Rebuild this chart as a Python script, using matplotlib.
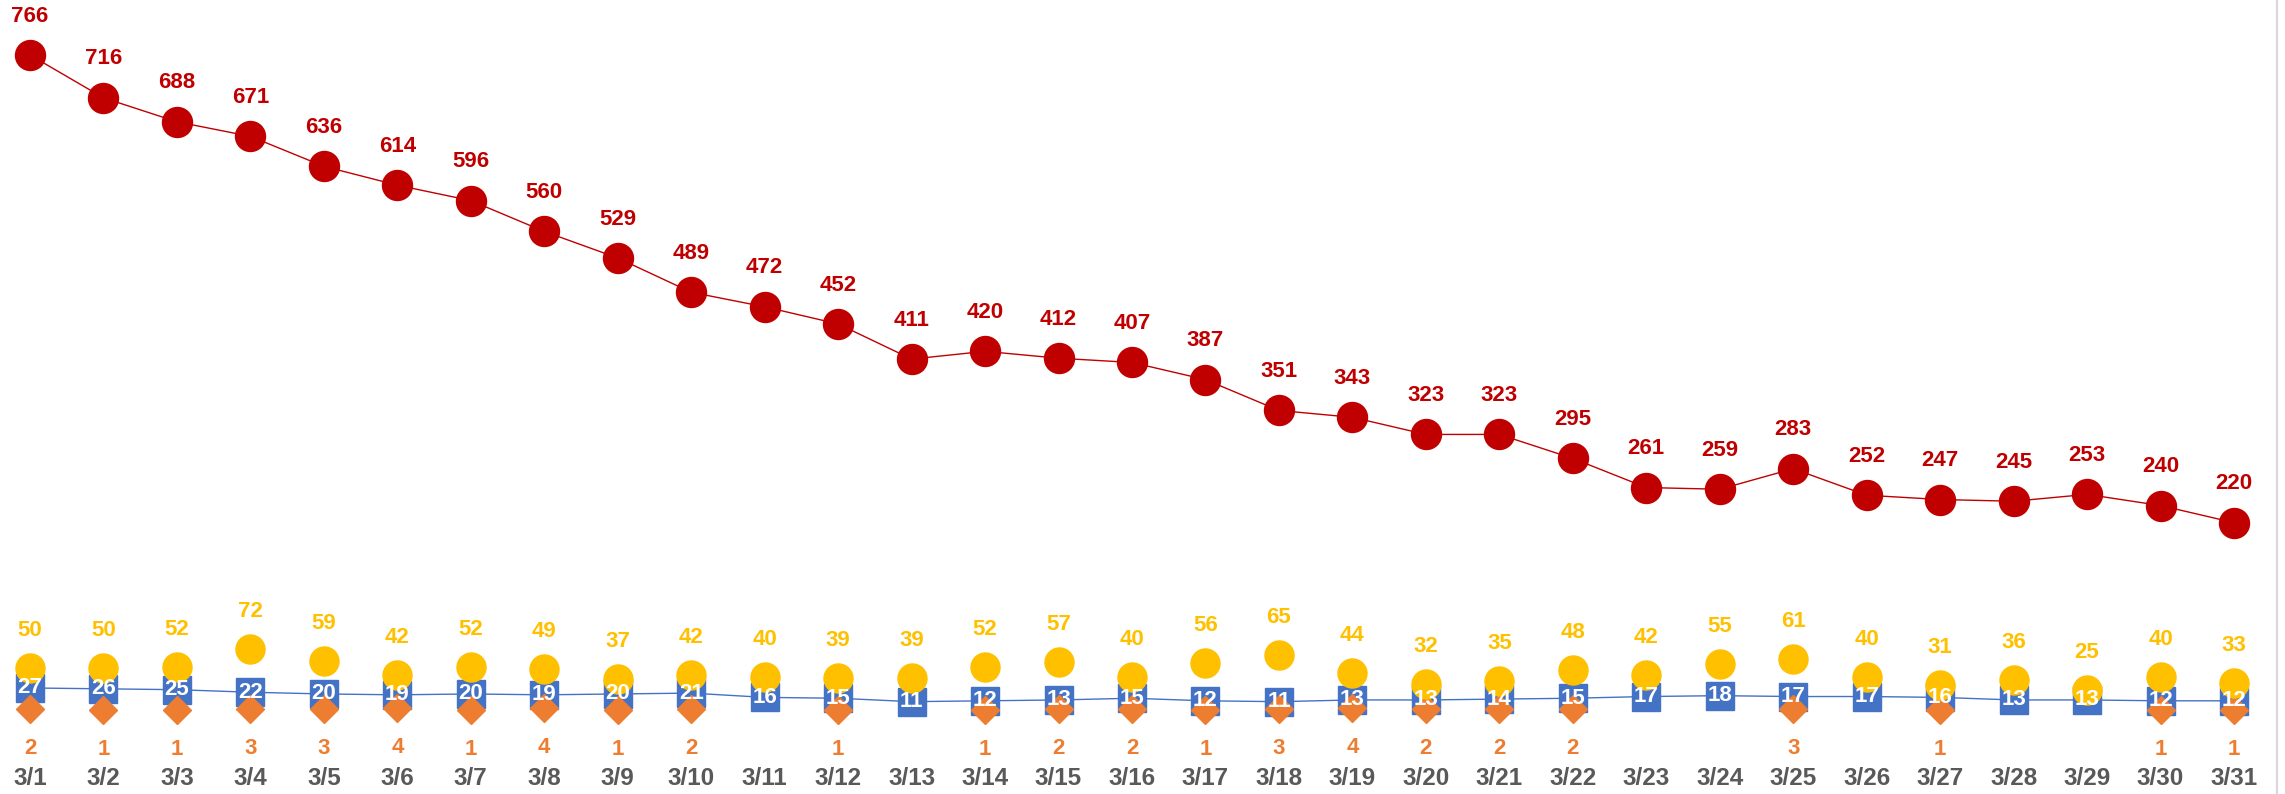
import numpy as np
import matplotlib
matplotlib.use("Agg")
import matplotlib.pyplot as plt
from matplotlib.lines import Line2D
from matplotlib.transforms import blended_transform_factory

plt.rcParams['font.family'] = ['Liberation Sans', 'DejaVu Sans']

dates = ["3/%d" % d for d in range(1, 32)]

# red series (top line)
red = [766, 716, 688, 671, 636, 614, 596, 560, 529, 489, 472, 452, 411, 420,
       412, 407, 387, 351, 343, 323, 323, 295, 261, 259, 283, 252, 247, 245,
       253, 240, 220]
# yellow dots
yellow = [50, 50, 52, 72, 59, 42, 52, 49, 37, 42, 40, 39, 39, 52, 57, 40, 56,
          65, 44, 32, 35, 48, 42, 55, 61, 40, 31, 36, 25, 40, 33]
# blue squares with line
blue = [27, 26, 25, 22, 20, 19, 20, 19, 20, 21, 16, 15, 11, 12, 13, 15, 12, 11,
        13, 13, 14, 15, 17, 18, 17, 17, 16, 13, 13, 12, 12]
# orange diamonds (None = no value that day)
orange = [2, 1, 1, 3, 3, 4, 1, 4, 1, 2, None, 1, None, 1, 2, 2, 1, 3, 4, 2, 2,
          2, None, None, 3, None, 1, None, None, 1, 1]

c_red = "#C00000"
c_yellow = "#FFC000"
c_blue = "#4472C4"
c_orange = "#ED7D31"
c_axis = "#595959"

x = np.arange(len(dates))
orange_arr = np.array([np.nan if v is None else v for v in orange], dtype=float)

fig = plt.figure(figsize=(22.85, 7.94), dpi=100)
ax = fig.add_axes([0, 0, 1, 1])
ax.set_xlim(-0.408, 30.694)
ax.set_ylim(-96.8, 830.2)
ax.axis("off")

fs = 16

ax.plot(x, red, color=c_red, lw=1.0, marker="o", ms=21.6, mfc=c_red, mec=c_red,
        zorder=2)
ax.plot(x, blue, color=c_blue, lw=1.0, marker="s", ms=20.2, mfc=c_blue,
        mec=c_blue, zorder=3)
ax.plot(x, orange_arr, ls="none", marker="D", ms=14.3, mfc=c_orange,
        mec=c_orange, zorder=4)
ax.plot(x, yellow, ls="none", marker="o", ms=20.9, mfc=c_yellow,
        mec=c_yellow, zorder=5)

for i in x:
    ax.annotate(str(red[i]), (i, red[i]), xytext=(0, 28), textcoords="offset points",
                ha="center", va="center", fontsize=fs, weight="bold", color=c_red)
    ax.annotate(str(yellow[i]), (i, yellow[i]), xytext=(0, 27),
                textcoords="offset points", ha="center", va="center",
                fontsize=fs, weight="bold", color=c_yellow)
    ax.text(i, blue[i], str(blue[i]), ha="center", va="center", fontsize=fs,
            weight="bold", color="white", zorder=6)
    if orange[i] is not None:
        ax.annotate(str(orange[i]), (i, orange[i]), xytext=(0, -28.5),
                    textcoords="offset points", ha="center", va="center",
                    fontsize=fs, weight="bold", color=c_orange)

trans = blended_transform_factory(ax.transData, ax.transAxes)
for i, d in enumerate(dates):
    ax.text(i, 0.0189, d, transform=trans, ha="center", va="center",
            fontsize=17.5, weight="bold", color=c_axis)

# chart border on the right edge
fig.add_artist(Line2D([2277 / 2285, 2277 / 2285], [0, 1], color="#D9D9D9", lw=1.6))

fig.savefig("out.png", dpi=100)
